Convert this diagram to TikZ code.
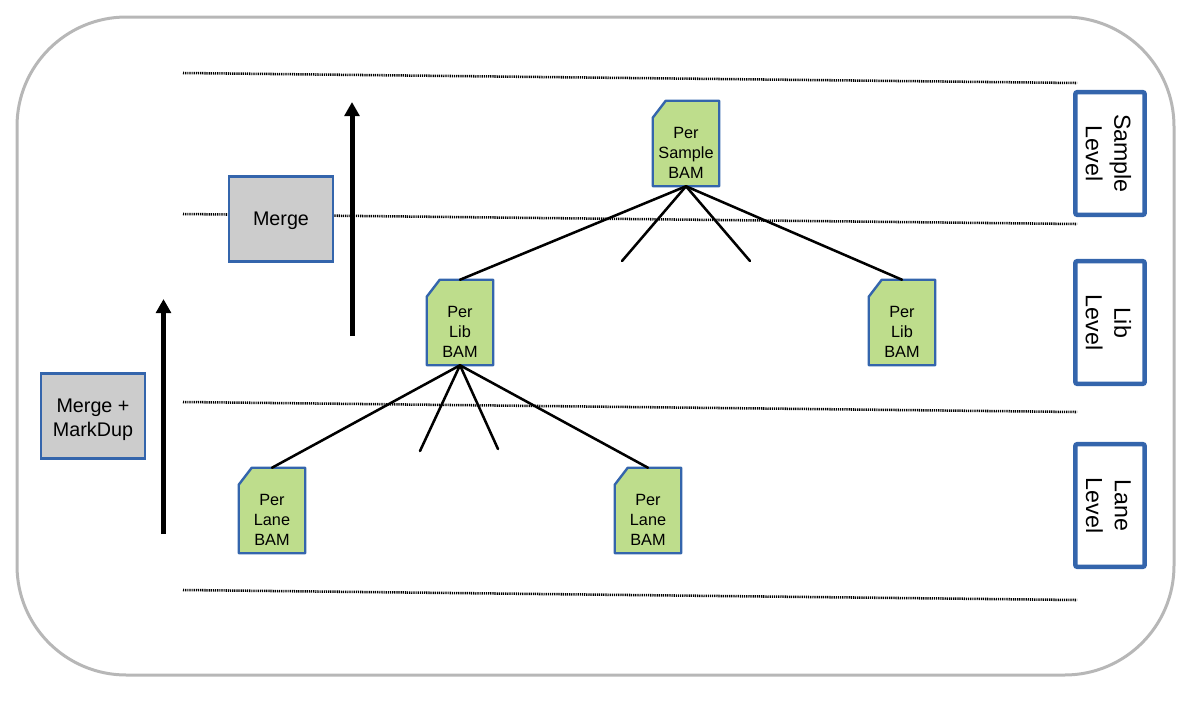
\documentclass[tikz,border=0pt]{standalone}
\usepackage{fontspec}
\setmainfont{Liberation Sans}
\usetikzlibrary{arrows.meta}
\definecolor{bluedge}{HTML}{3465AC}
\definecolor{docfill}{HTML}{BEDD8C}
\definecolor{greyfill}{HTML}{CCCCCC}
\definecolor{frameedge}{HTML}{B7B7B7}
\tikzset{
  px/.style={x=0.75pt,y=-0.75pt},
  frame/.style={draw=frameedge,line width=2.25pt,rounded corners=82pt},
  sep/.style={draw=black,line width=1.9pt,dash pattern=on 0.9pt off 0.7pt},
  link/.style={draw=black,line width=1.9pt,line cap=round},
  rise/.style={draw=black,line width=3.75pt,-{Triangle[length=10.5pt,width=11pt]}},
  docbox/.style={minimum width=49.5pt,minimum height=63.75pt,inner sep=0pt,align=center,
    font=\fontsize{12.2}{15}\selectfont},
  docedge/.style={draw=bluedge,fill=docfill,line width=1.8pt,line join=round},
  stepbox/.style={draw=bluedge,fill=greyfill,line width=2pt,inner sep=0pt,
    minimum width=78pt,minimum height=63.5pt},
  steptext/.style={inner sep=0pt,align=center,font=\fontsize{14.8}{18}\selectfont},
  sidebox/.style={draw=bluedge,fill=white,line width=3.4pt,rounded corners=1.5pt,inner sep=0pt,
    minimum width=52pt,minimum height=92pt},
  sidetext/.style={inner sep=0pt,rotate=-90,align=center,
    font=\fontsize{17.4}{21.5}\selectfont},
}
\newcommand{\docnode}[3]{%
  \node[docbox] (#1) at (#2) {};
  \draw[docedge] ([xshift=9.75pt]#1.north west) -- (#1.north east) -- (#1.south east)
    -- (#1.south west) -- ([yshift=-12.75pt]#1.north west) -- cycle;
  \node[docbox] at ([yshift=-7.25pt]#1.center) {#3};
}
\begin{document}
\begin{tikzpicture}[px]
\useasboundingbox (0,0) rectangle (1190,701);
\draw[frame] (17,17) rectangle (1174,675);
% level separators
\coordinate (s1a) at (183,73);  \coordinate (s1b) at (1077,83);
\coordinate (s2a) at (183,214); \coordinate (s2b) at (1077,224);
\coordinate (s3a) at (183,402); \coordinate (s3b) at (1077,412);
\coordinate (s4a) at (183,590); \coordinate (s4b) at (1077,600);
\draw[sep] (s1a) -- (s1b);
\draw[sep] (s2a) -- (s2b);
\draw[sep] (s3a) -- (s3b);
\draw[sep] (s4a) -- (s4b);
% documents
\docnode{sample}{686,143.5}{Per\\Sample\\BAM}
\docnode{libL}{460,322.5}{Per\\Lib\\BAM}
\docnode{libR}{902,322.5}{Per\\Lib\\BAM}
\docnode{laneL}{272,510.5}{Per\\Lane\\BAM}
\docnode{laneR}{648,510.5}{Per\\Lane\\BAM}
% tree connectors
\coordinate (t1) at (622,261); \coordinate (t2) at (750,261);
\coordinate (t3) at (420,451); \coordinate (t4) at (498,449);
\draw[link] (sample.south) -- (libL.north);
\draw[link] (sample.south) -- (libR.north);
\draw[link] (sample.south) -- (t1);
\draw[link] (sample.south) -- (t2);
\draw[link] (libL.south) -- (laneL.north);
\draw[link] (libL.south) -- (laneR.north);
\draw[link] (libL.south) -- (t3);
\draw[link] (libL.south) -- (t4);
% step boxes
\node[stepbox] (merge) at (281,219) {};
\node[steptext] at ([yshift=-1.6pt]merge.center) {Merge};
\node[stepbox] (mergedup) at (93,416) {};
\node[steptext] at ([yshift=-2.6pt]mergedup.center) {Merge +\\MarkDup};
% arrows
\coordinate (a1s) at (352,336); \coordinate (a1e) at (352,102);
\coordinate (a2s) at (163.5,534); \coordinate (a2e) at (163.5,299);
\draw[rise] (a1s) -- (a1e);
\draw[rise] (a2s) -- (a2e);
% side labels
\node[sidebox] (sideS) at (1110,153.5) {};
\node[sidetext] at ([xshift=-1.2pt]sideS.center) {Sample\\Level};
\node[sidebox] (sideL) at (1110,322.5) {};
\node[sidetext] at ([xshift=-1.2pt]sideL.center) {Lib\\Level};
\node[sidebox] (sideN) at (1110,505.5) {};
\node[sidetext] at ([xshift=-1.2pt]sideN.center) {Lane\\Level};
\end{tikzpicture}
\end{document}
